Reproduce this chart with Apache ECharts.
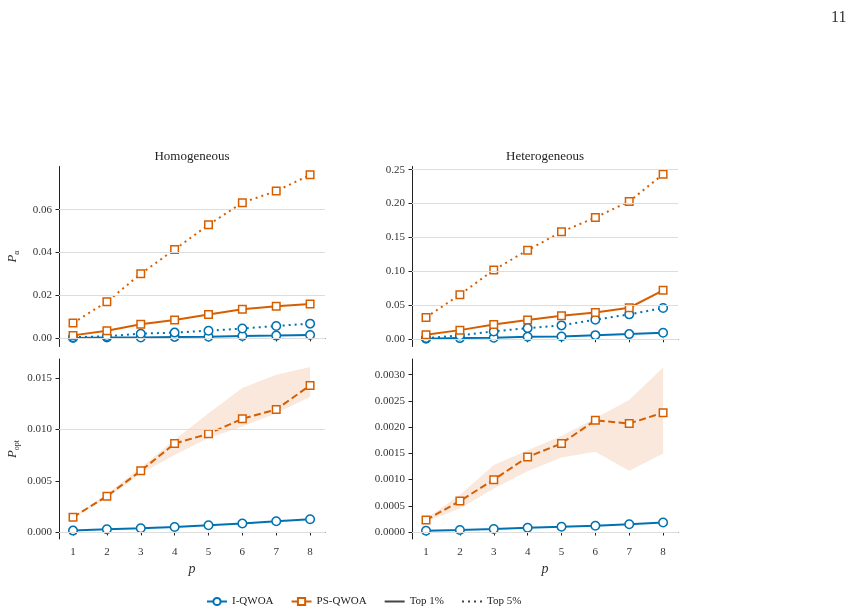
<!DOCTYPE html>
<html>
<head>
<meta charset="utf-8">
<script src="https://cdn.jsdelivr.net/npm/echarts@6/dist/echarts.min.js"></script>
<style>
  html, body { margin: 0; padding: 0; background: #fff; }
  #chart { width: 855px; height: 611px; }
</style>
</head>
<body>
<div id="chart"></div>
<script>
// p values on the x axis
const ps = [1, 2, 3, 4, 5, 6, 7, 8]

// top row: P_alpha, homogeneous
const homI1 = [0.0000, 0.0002, 0.0002, 0.0005, 0.0006, 0.0009, 0.0011, 0.0014]
const homI5 = [0.0003, 0.0008, 0.0020, 0.0025, 0.0034, 0.0044, 0.0056, 0.0067]
const homPS1 = [0.0012, 0.0034, 0.0064, 0.0084, 0.0110, 0.0134, 0.0148, 0.0159]
const homPS5 = [0.0070, 0.0169, 0.0300, 0.0414, 0.0529, 0.0633, 0.0687, 0.0763]

// top row: P_alpha, heterogeneous
const hetI1 = [0.0002, 0.0010, 0.0015, 0.0030, 0.0035, 0.0054, 0.0069, 0.0089]
const hetI5 = [0.0010, 0.0050, 0.0109, 0.0158, 0.0198, 0.0282, 0.0361, 0.0455]
const hetPS1 = [0.0059, 0.0128, 0.0212, 0.0277, 0.0341, 0.0390, 0.0459, 0.0716]
const hetPS5 = [0.0316, 0.0652, 0.1018, 0.1309, 0.1581, 0.1793, 0.2031, 0.2431]

// bottom row: P_opt, homogeneous (with band for PS-QWOA)
const homOptI = [0.00013, 0.00026, 0.00036, 0.00049, 0.00065, 0.00082, 0.00104, 0.00124]
const homOptPS = [0.00144, 0.00349, 0.00597, 0.00864, 0.00959, 0.01106, 0.01197, 0.01432]
const homOptPSLo = [0.00138, 0.0033, 0.0057, 0.00753, 0.00917, 0.0103, 0.01161, 0.0132]
const homOptPSHi = [0.0015, 0.0037, 0.0063, 0.0090, 0.01161, 0.01406, 0.01536, 0.01611]

// bottom row: P_opt, heterogeneous
const hetOptI = [0.000025, 0.000038, 0.000057, 0.000083, 0.0001, 0.00012, 0.00015, 0.00018]
const hetOptPS = [0.000229, 0.000591, 0.000998, 0.00143, 0.00169, 0.00213, 0.00207, 0.002275]
const hetOptPSLo = [0.0002, 0.00045, 0.00083, 0.00116, 0.00142, 0.00153, 0.00117, 0.0015]
const hetOptPSHi = [0.00026, 0.000705, 0.00128, 0.00156, 0.00183, 0.00217, 0.00252, 0.00314]

// tick labels per panel
const yTicks = [
  [0, 0.02, 0.04, 0.06],
  [0, 0.05, 0.10, 0.15, 0.20, 0.25],
  [0, 0.005, 0.010, 0.015],
  [0, 0.0005, 0.0010, 0.0015, 0.0020, 0.0025, 0.0030]
]
const yDecimals = [2, 2, 3, 4]
const yRange = [[-0.004, 0.0802], [-0.0114, 0.2547], [-0.00069, 0.0169], [-0.000133, 0.0033]]
const titles = ['Homogeneous', 'Heterogeneous']

const BLUE = '#0072b2'
const ORANGE = '#d55e00'
const FONT = '"Liberation Serif", "DejaVu Serif", serif'

const grids = [
  { left: 59, top: 166.5, width: 266, height: 180 },
  { left: 412, top: 166.5, width: 266, height: 180 },
  { left: 59, top: 359, width: 266, height: 180 },
  { left: 412, top: 359, width: 266, height: 180 }
]

const pairs = vals => ps.map((p, k) => [p, vals[k]])

const mkLine = (name, vals, gi, color, symbol, type) => ({
  type: 'line',
  name,
  xAxisIndex: gi,
  yAxisIndex: gi,
  data: pairs(vals),
  symbol,
  symbolSize: symbol === 'circle' ? 8.5 : 7.5,
  showSymbol: true,
  itemStyle: { color: '#fff', borderColor: color, borderWidth: 1.5 },
  lineStyle: { color, width: 2, type, cap: 'butt' },
  z: 4
})

// shaded spread between lo and hi, drawn as one polygon
const mkBand = (lo, hi, gi) => ({
  type: 'custom',
  xAxisIndex: gi,
  yAxisIndex: gi,
  silent: true,
  z: 2,
  data: ps.map((p, k) => [p, lo[k], hi[k]]),
  encode: { x: 0, y: [1, 2] },
  renderItem: (params, api) => {
    if (params.dataIndex !== 0) return null
    const top = ps.map((p, k) => api.coord([p, hi[k]]))
    const bottom = ps.map((p, k) => api.coord([p, lo[k]])).reverse()
    return {
      type: 'polygon',
      shape: { points: top.concat(bottom) },
      style: { fill: 'rgba(213,94,0,0.14)' }
    }
  }
})

// horizontal grid lines at the tick values
const mkGridLines = gi => ({
  type: 'line', xAxisIndex: gi, yAxisIndex: gi, data: [], silent: true, z: 1,
  markLine: {
    silent: true,
    symbol: ['none', 'none'],
    label: { show: false },
    lineStyle: { color: '#dddddd', width: 1, type: 'solid' },
    data: yTicks[gi].map(v => ({ yAxis: v }))
  }
})

const xAxes = grids.map((g, i) => ({
  type: 'value',
  gridIndex: i,
  min: 0.586,
  max: 8.44,
  axisLine: { show: true, lineStyle: { color: '#222', width: 1 } },
  axisTick: { show: true, customValues: ps, length: 3.5, lineStyle: { color: '#222' } },
  axisLabel: {
    show: i >= 2, customValues: ps, margin: 8,
    fontFamily: FONT, fontSize: 11, color: '#333'
  },
  splitLine: { show: false },
  name: i >= 2 ? 'p' : '',
  nameLocation: 'middle',
  nameGap: 23,
  nameTextStyle: { fontFamily: FONT, fontSize: 14, fontStyle: 'italic', color: '#333' }
}))

const yNames = ['{i|P}{s|α}', '', '{i|P}{s|opt}', '']

const yAxes = grids.map((g, i) => ({
  type: 'value',
  gridIndex: i,
  min: yRange[i][0],
  max: yRange[i][1],
  axisLine: { show: true, lineStyle: { color: '#222', width: 1 } },
  axisTick: { show: true, customValues: yTicks[i], length: 3.5, lineStyle: { color: '#222' } },
  axisLabel: {
    customValues: yTicks[i], margin: 7,
    formatter: v => v.toFixed(yDecimals[i]),
    fontFamily: FONT, fontSize: 11, color: '#333'
  },
  splitLine: { show: false },
  name: yNames[i],
  nameLocation: 'middle',
  nameGap: 38,
  nameRotate: 90,
  nameTextStyle: {
    color: '#333',
    rich: {
      i: { fontFamily: FONT, fontSize: 13, fontStyle: 'italic', color: '#333', verticalAlign: 'top' },
      s: { fontFamily: FONT, fontSize: 8, color: '#333', padding: [7, 0, 0, 0] }
    }
  }
}))

const series = [
  ...grids.map((g, i) => mkGridLines(i)),
  mkBand(homOptPSLo, homOptPSHi, 2),
  mkBand(hetOptPSLo, hetOptPSHi, 3),
  mkLine('I-QWOA', homI1, 0, BLUE, 'circle', 'solid'),
  mkLine('I-QWOA', homI5, 0, BLUE, 'circle', [2, 4]),
  mkLine('PS-QWOA', homPS1, 0, ORANGE, 'rect', 'solid'),
  mkLine('PS-QWOA', homPS5, 0, ORANGE, 'rect', [2, 4]),
  mkLine('I-QWOA', hetI1, 1, BLUE, 'circle', 'solid'),
  mkLine('I-QWOA', hetI5, 1, BLUE, 'circle', [2, 4]),
  mkLine('PS-QWOA', hetPS1, 1, ORANGE, 'rect', 'solid'),
  mkLine('PS-QWOA', hetPS5, 1, ORANGE, 'rect', [2, 4]),
  mkLine('I-QWOA', homOptI, 2, BLUE, 'circle', 'solid'),
  mkLine('PS-QWOA', homOptPS, 2, ORANGE, 'rect', [7, 3.5]),
  mkLine('I-QWOA', hetOptI, 3, BLUE, 'circle', 'solid'),
  mkLine('PS-QWOA', hetOptPS, 3, ORANGE, 'rect', [7, 3.5]),
  // legend-only entries for the line styles
  {
    type: 'line', name: 'Top 1%', xAxisIndex: 0, yAxisIndex: 0, data: [],
    symbol: 'none', itemStyle: { color: '#444' }, lineStyle: { color: '#444', width: 2 }
  },
  {
    type: 'line', name: 'Top 5%', xAxisIndex: 0, yAxisIndex: 0, data: [],
    symbol: 'none', itemStyle: { color: '#444' }, lineStyle: { color: '#444', width: 2, type: [2, 4] }
  }
]

const chart = echarts.init(document.getElementById('chart'), null, { renderer: 'canvas' })

chart.setOption({
  animation: false,
  backgroundColor: '#fff',
  grid: grids,
  xAxis: xAxes,
  yAxis: yAxes,
  legend: {
    data: [
      'I-QWOA',
      'PS-QWOA',
      { name: 'Top 1%', itemStyle: { opacity: 0 } },
      { name: 'Top 5%', itemStyle: { opacity: 0 } }
    ],
    left: 201,
    top: 591,
    itemWidth: 20,
    itemHeight: 9,
    itemGap: 17,
    textStyle: { fontFamily: FONT, fontSize: 11, color: '#222' }
  },
  graphic: [
    {
      type: 'text', x: 192, y: 157,
      style: { text: titles[0], font: '13px ' + FONT, fill: '#222', align: 'center', verticalAlign: 'middle' }
    },
    {
      type: 'text', x: 545, y: 157,
      style: { text: titles[1], font: '13px ' + FONT, fill: '#222', align: 'center', verticalAlign: 'middle' }
    },
    {
      type: 'text', x: 831, y: 18,
      style: { text: '11', font: '16px ' + FONT, fill: '#333', verticalAlign: 'middle' }
    }
  ],
  series
})
</script>
</body>
</html>
